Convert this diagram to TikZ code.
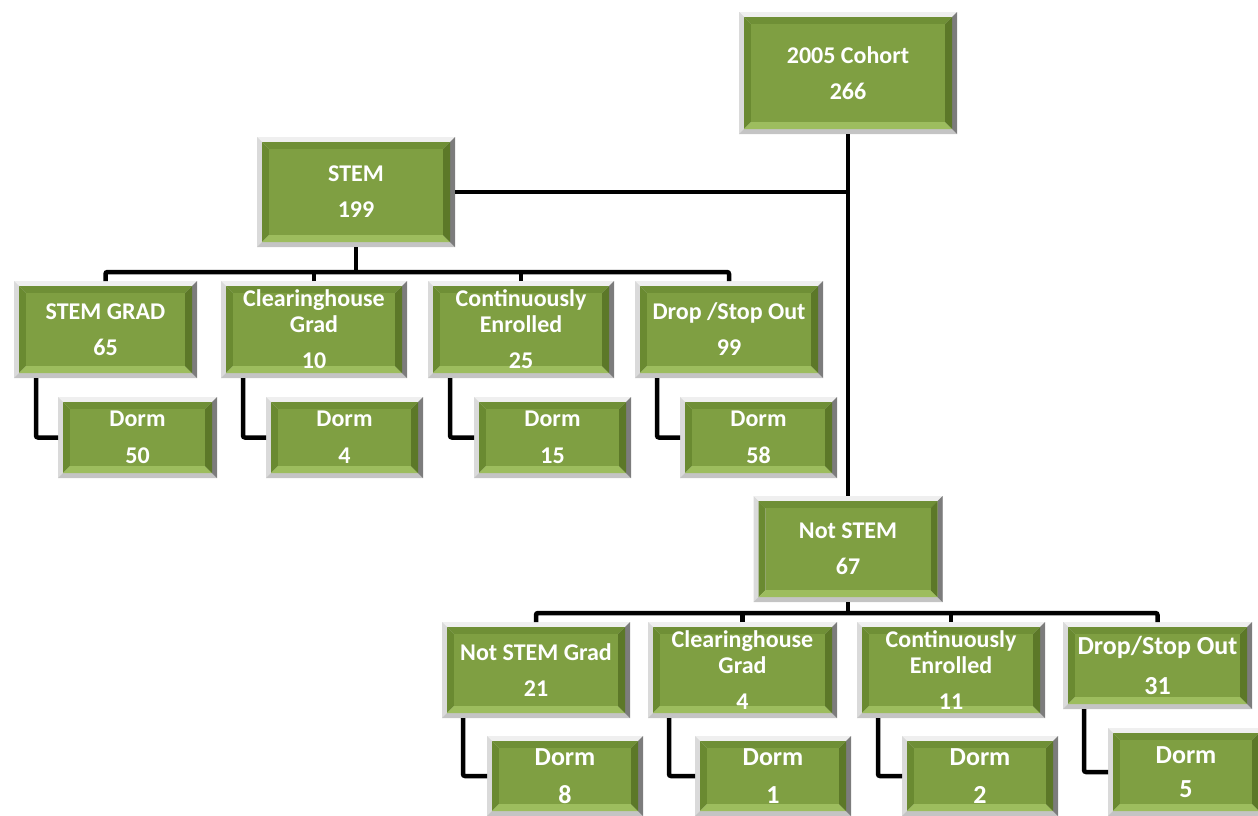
\documentclass[tikz,border=0pt]{standalone}
\usepackage{fontspec}
\setmainfont{Carlito}
\usetikzlibrary{calc}
\definecolor{fTop}{HTML}{EFEFEF}
\definecolor{fLeft}{HTML}{DADADA}
\definecolor{fBot}{HTML}{C4C4C4}
\definecolor{fRight}{HTML}{7C7C7C}
\definecolor{gMain}{HTML}{7F9F42}
\definecolor{gTop}{HTML}{6F8F36}
\definecolor{gLeft}{HTML}{6A8A31}
\definecolor{gBot}{HTML}{9DBD5E}
\definecolor{gRight}{HTML}{5C7828}
\tikzset{
  bevbox/.style={rectangle, inner sep=0pt, outer sep=0pt, fill=fLeft, text=white,
    align=center, font=\bfseries\fontsize{24}{26}\selectfont,
    path picture={
      \path (path picture bounding box.north west) coordinate (pA)
            (path picture bounding box.north east) coordinate (pB)
            (path picture bounding box.south east) coordinate (pC)
            (path picture bounding box.south west) coordinate (pD);
      \path ([shift={(5pt,-5pt)}]pA) coordinate (qA) ([shift={(-5pt,-5pt)}]pB) coordinate (qB)
            ([shift={(-5pt,5pt)}]pC) coordinate (qC) ([shift={(5pt,5pt)}]pD) coordinate (qD);
      \path ([shift={(12pt,-12pt)}]pA) coordinate (rA) ([shift={(-12pt,-12pt)}]pB) coordinate (rB)
            ([shift={(-12pt,12pt)}]pC) coordinate (rC) ([shift={(12pt,12pt)}]pD) coordinate (rD);
      \fill[fTop] (pA)--(pB)--(qB)--(qA)--cycle;
      \fill[fLeft] (pA)--(qA)--(qD)--(pD)--cycle;
      \fill[fBot] (pD)--(qD)--(qC)--(pC)--cycle;
      \fill[fRight] (pB)--(pC)--(qC)--(qB)--cycle;
      \fill[gTop] (qA)--(qB)--(rB)--(rA)--cycle;
      \fill[gLeft] (qA)--(rA)--(rD)--(qD)--cycle;
      \fill[gBot] (qD)--(rD)--(rC)--(qC)--cycle;
      \fill[gRight] (qB)--(qC)--(rC)--(rB)--cycle;
      \fill[gMain] (rA) rectangle (rC);
    }},
  bigtxt/.style={font=\bfseries\fontsize{26}{28}\selectfont},
  conn/.style={draw=black, line width=4.5pt, rounded corners=2pt}
}
\begin{document}
\begin{tikzpicture}[x=1pt,y=-1pt]
\useasboundingbox (0,0) rectangle (1258,815);
\clip (0,0) rectangle (1258,815);
% connectors first (behind boxes)
\coordinate (bar1) at (356,272);
\coordinate (bar3) at (848,613);
% nodes
\node[bevbox, minimum width=218pt, minimum height=122pt] (coh) at (848,73) {2005 Cohort\\[10pt]266};
\node[bevbox, minimum width=198pt, minimum height=110pt] (stem) at (356,192) {STEM\\[10pt]199};
\node[bevbox, minimum width=183pt, minimum height=97pt] (a1) at (105.5,329.5) {STEM GRAD\\[10pt]65};
\node[bevbox, minimum width=186pt, minimum height=97pt] (a2) at (314,329.5) {Clearinghouse\\Grad\\[10pt]10};
\node[bevbox, minimum width=186pt, minimum height=97pt] (a3) at (521,329.5) {Continuously\\Enrolled\\[10pt]25};
\node[bevbox, minimum width=188pt, minimum height=97pt] (a4) at (729,329.5) {Drop /Stop Out\\[10pt]99};
\node[bevbox, minimum width=159pt, minimum height=81pt] (d1) at (137.5,437.5) {Dorm\\[11pt]50};
\node[bevbox, minimum width=157pt, minimum height=81pt] (d2) at (344.5,437.5) {Dorm\\[11pt]4};
\node[bevbox, minimum width=157pt, minimum height=81pt] (d3) at (552.5,437.5) {Dorm\\[11pt]15};
\node[bevbox, minimum width=157pt, minimum height=81pt] (d4) at (758.5,437.5) {Dorm\\[11pt]58};
\node[bevbox, minimum width=189pt, minimum height=106pt] (ns) at (848,549) {Not STEM\\[10pt]67};
\node[bevbox, minimum width=188pt, minimum height=96pt] (b1) at (536,670) {Not STEM Grad\\[10pt]21};
\node[bevbox, minimum width=189pt, minimum height=96pt] (b2) at (742.5,670) {Clearinghouse\\Grad\\[10pt]4};
\node[bevbox, minimum width=188pt, minimum height=96pt] (b3) at (951,670) {Continuously\\Enrolled\\[10pt]11};
\node[bevbox, bigtxt, minimum width=189pt, minimum height=87pt] (b4) at (1157.5,665.5) {Drop/Stop Out\\[12pt]31};
\node[bevbox, bigtxt, minimum width=156pt, minimum height=80pt] (e1) at (565,776) {Dorm\\[10pt]8};
\node[bevbox, bigtxt, minimum width=156pt, minimum height=80pt] (e2) at (773,776) {Dorm\\[10pt]1};
\node[bevbox, bigtxt, minimum width=156pt, minimum height=80pt] (e3) at (980,776) {Dorm\\[10pt]2};
\node[bevbox, bigtxt, minimum width=156pt, minimum height=88pt] (e4) at (1186,772) {Dorm\\[6pt]5};
% connectors
\begin{scope}[on background layer/.style={}]
\draw[conn] (coh.south) -- (ns.north);
\draw[conn] (stem.east) -- (stem.east -| coh.south);
\draw[conn] (stem.south) -- (bar1);
\draw[conn] (a1.north) |- (bar1) -| (a4.north);
\draw[conn] (a2.north) -- (a2.north |- bar1);
\draw[conn] (a3.north) -- (a3.north |- bar1);
\draw[conn] ([xshift=22pt]a1.south west) |- (d1.west);
\draw[conn] ([xshift=22pt]a2.south west) |- (d2.west);
\draw[conn] ([xshift=22pt]a3.south west) |- (d3.west);
\draw[conn] ([xshift=22pt]a4.south west) |- (d4.west);
\draw[conn] (ns.south) -- (bar3);
\draw[conn] (b1.north) |- (bar3) -| (b4.north);
\draw[conn] (b2.north) -- (b2.north |- bar3);
\draw[conn] (b3.north) -- (b3.north |- bar3);
\draw[conn] ([xshift=21pt]b1.south west) |- (e1.west);
\draw[conn] ([xshift=21pt]b2.south west) |- (e2.west);
\draw[conn] ([xshift=21pt]b3.south west) |- (e3.west);
\draw[conn] ([xshift=21pt]b4.south west) |- (e4.west);
\end{scope}
\end{tikzpicture}
\end{document}
